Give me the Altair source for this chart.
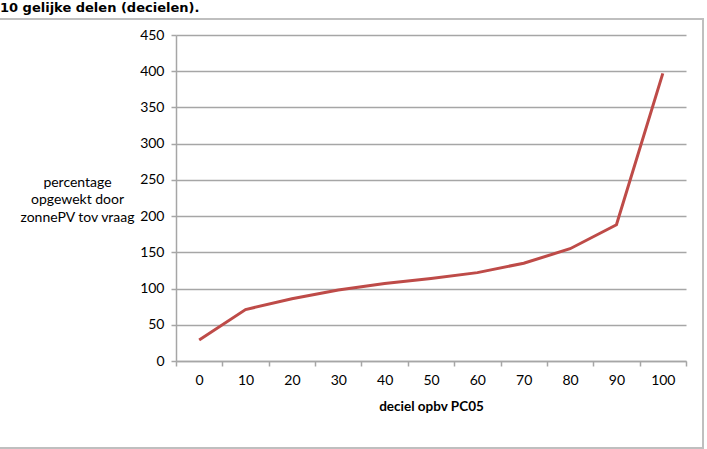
import altair as alt
import pandas as pd

deciles = [0, 10, 20, 30, 40, 50, 60, 70, 80, 90, 100]
values = [29, 71, 86, 98, 107, 114, 122, 135, 155, 188, 397]
y_ticks = [0, 50, 100, 150, 200, 250, 300, 350, 400, 450]
heading = "10 gelijke delen (decielen)."

df = pd.DataFrame({"deciel": deciles, "pct": values})

FONT = "Lato"
GRAY = "#A6A6A6"

x_enc = alt.X(
    "deciel:O",
    sort=deciles,
    scale=alt.Scale(type="band", paddingInner=0, paddingOuter=0),
    axis=alt.Axis(
        title="deciel opbv PC05",
        tickBand="extent",
        labelAngle=0,
        labelPadding=7,
        tickSize=5,
        tickColor=GRAY,
        domainColor=GRAY,
        domainWidth=1.5,
        tickWidth=1.5,
        labelFont=FONT,
        labelFontSize=14,
        labelColor="#000000",
        titleFont=FONT,
        titleFontSize=13.5,
        titleFontWeight="bold",
        titleColor="#000000",
        titlePadding=12,
        grid=False,
    ),
)

y_enc = alt.Y(
    "pct:Q",
    scale=alt.Scale(domain=[0, 450], nice=False),
    axis=alt.Axis(
        values=y_ticks,
        title=["percentage", "opgewekt  door", "zonnePV tov vraag"],
        titleAngle=0,
        titleAlign="center",
        titleBaseline="middle",
        titleX=-99,
        titleY=147,
        titleFont=FONT,
        titleFontSize=14,
        titleFontWeight="normal",
        titleColor="#000000",
        titleLineHeight=17.5,
        labelFont=FONT,
        labelFontSize=14,
        labelColor="#000000",
        labelPadding=7,
        tickSize=5,
        tickColor=GRAY,
        tickWidth=1.5,
        domainColor=GRAY,
        domainWidth=1.5,
        gridColor=GRAY,
        gridWidth=1.5,
    ),
)

line = alt.Chart(df).mark_line(color="#BE4B48", strokeWidth=3).encode(x=x_enc, y=y_enc)

frame = alt.Chart(df).mark_rect(
    fill=None, stroke="#BFBFBF", strokeWidth=2
).encode(
    x=alt.value(-180), x2=alt.value(527), y=alt.value(-16), y2=alt.value(87 + 326)
)

head = alt.Chart(pd.DataFrame({"t": [heading]})).mark_text(
    align="left",
    baseline="alphabetic",
    font="DejaVu Sans",
    fontSize=13,
    fontWeight="bold",
    color="#000000",
).encode(text="t:N", x=alt.value(-176), y=alt.value(-23))

chart = alt.layer(frame, line, head).properties(
    width=510,
    height=326,
    autosize=alt.AutoSizeParams(type="none"),
    padding={"left": 176, "top": 35, "right": 21, "bottom": 88},
).configure_view(stroke=None)

chart.save("out.html", embed_options={"renderer": "svg", "actions": False})
